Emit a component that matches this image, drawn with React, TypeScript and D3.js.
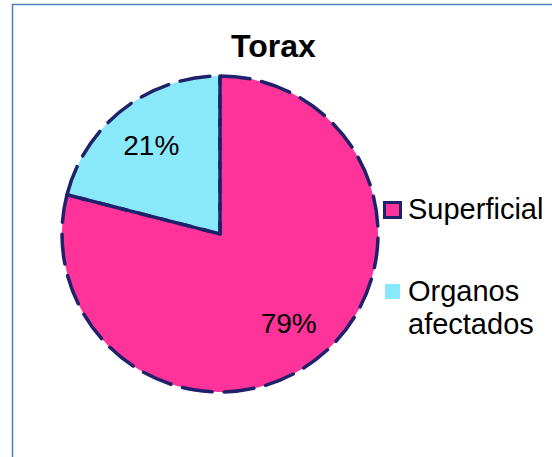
import React from "react";
import * as d3 from "d3";

const categories = ["Superficial", "Organos afectados"];
const values = [79, 21];
const legendLines = [["Superficial"], ["Organos", "afectados"]];
const colors = ["#FF3399", "#8AE8FB"];
const title = "Torax";

export default function App() {
  const W = 552, H = 457;
  const cx = 220, cy = 234, r = 158;
  const pie = d3.pie<number>().sort(null).value((d) => d)(values);
  const arc = d3.arc<d3.PieArcDatum<number>>().innerRadius(0).outerRadius(r);
  const labelArc = d3.arc<d3.PieArcDatum<number>>().innerRadius(r * 0.71).outerRadius(r * 0.71);
  const total = d3.sum(values);
  const navy = "#1F216B";
  const font = "Liberation Sans, Arial, sans-serif";
  return (
    <svg width={W} height={H} style={{ position: "absolute", left: 0, top: 0 }}>
      <rect x={0} y={0} width={W} height={H} fill="#fff" />
      <path d={`M12.5,${H + 5} L12.5,4.5 L${W + 5},4.5`} fill="none" stroke="#4F81BD" strokeWidth={1.5} />
      <text x={273.5} y={57} textAnchor="middle" fontFamily={font} fontWeight="bold" fontSize={32} fill="#000">{title}</text>
      <g transform={`translate(${cx},${cy})`}>
        {pie.map((p, i) => (
          <path key={"f" + i} d={arc(p) || ""} fill={colors[i]} />
        ))}
        {pie.map((p, i) => (
          <path key={"s" + i} d={arc(p) || ""} fill="none" stroke={navy} strokeWidth={3.5} strokeDasharray="30 12" strokeLinecap="round" strokeLinejoin="round" />
        ))}
        {pie.map((p, i) => {
          const [lx, ly] = labelArc.centroid(p);
          return (
            <text key={"l" + i} x={lx} y={ly} textAnchor="middle" dy="0.36em" fontFamily={font} fontSize={28} fill="#000">
              {Math.round((values[i] / total) * 100) + "%"}
            </text>
          );
        })}
      </g>
      <g>
        <rect x={384.5} y={202.5} width={16} height={15} fill={colors[0]} stroke={navy} strokeWidth={3} />
        <text x={408} y={219} fontFamily={font} fontSize={29} fill="#000">{legendLines[0][0]}</text>
        <rect x={385} y={284} width={15} height={15} fill={colors[1]} />
        {legendLines[1].map((t, j) => (
          <text key={j} x={408} y={301 + j * 33} fontFamily={font} fontSize={29} fill="#000">{t}</text>
        ))}
      </g>
    </svg>
  );
}
